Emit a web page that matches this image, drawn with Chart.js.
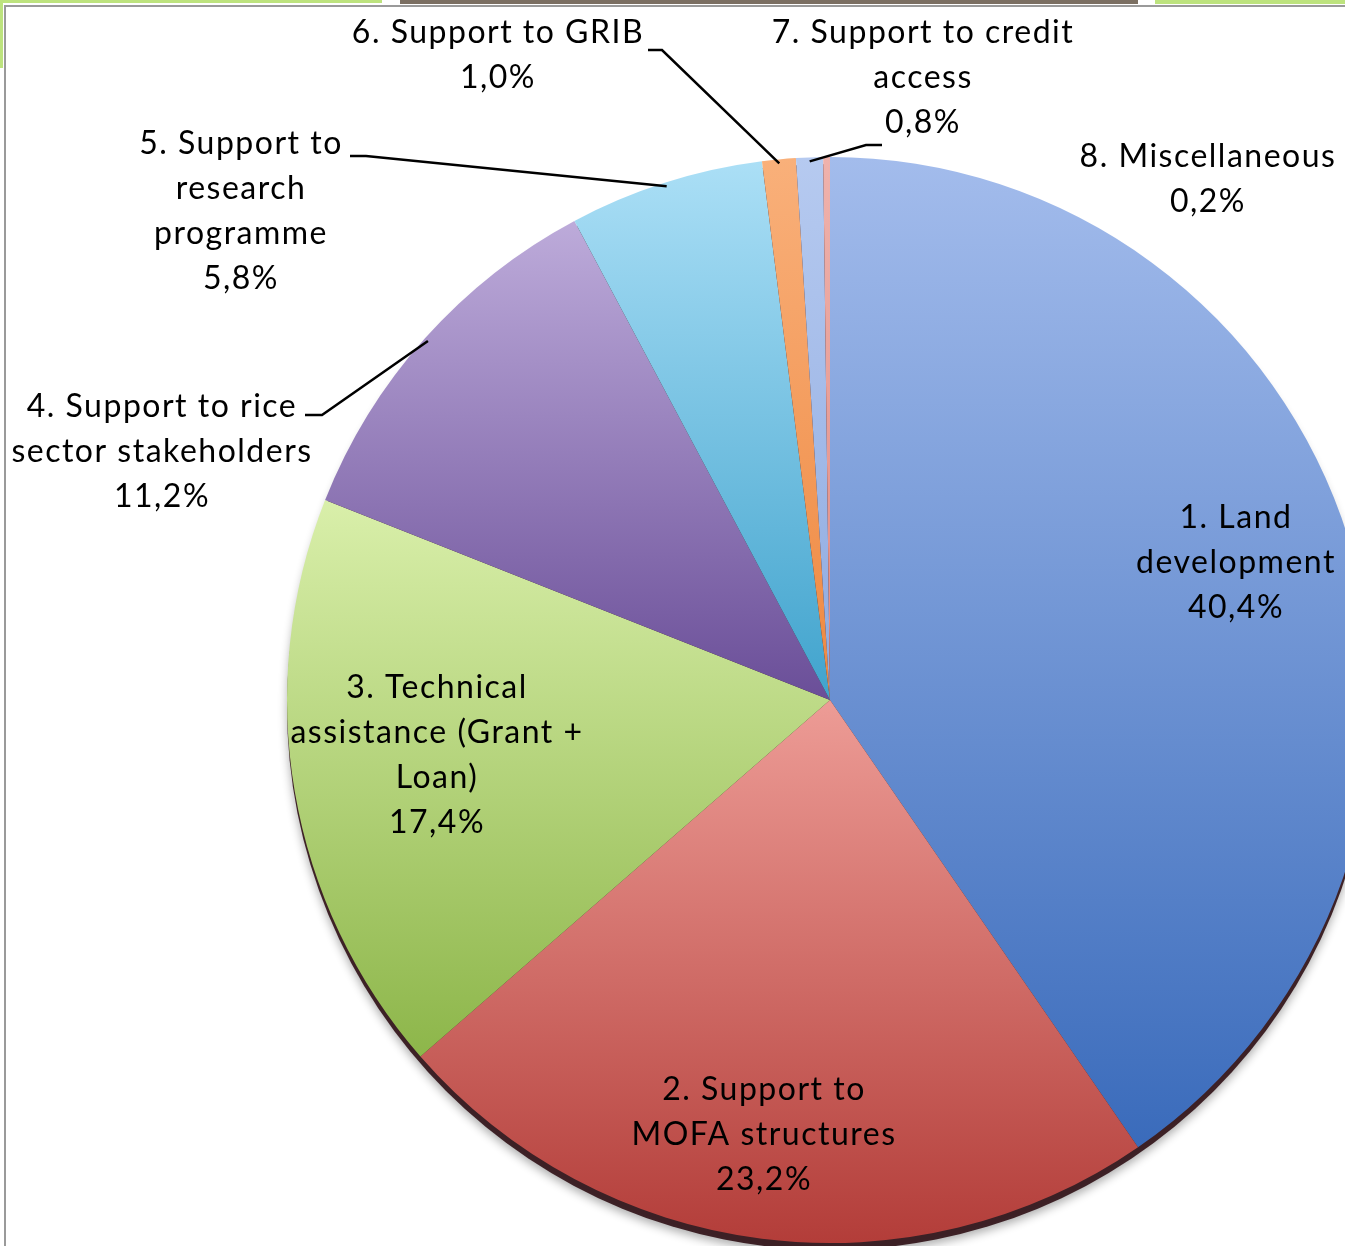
<!DOCTYPE html>
<html>
<head>
<meta charset="utf-8">
<script src="https://cdn.jsdelivr.net/npm/chart.js@4.4.1/dist/chart.umd.min.js"></script>
<style>
    html, body { margin: 0; padding: 0; background: #fff; overflow: hidden; }
    .stage { position: relative; width: 1345px; height: 1246px; overflow: hidden; }
    .stage canvas { position: absolute; left: 0; top: 0; }
    .deco { position: absolute; z-index: 2; }
</style>
</head>
<body>
<div class="stage">
    <canvas id="pieChart" width="1400" height="1246" style="width:1400px;height:1246px"></canvas>
    <!-- frame bits round the cropped screenshot -->
    <div class="deco" style="left:0;top:0;width:382px;height:3px;background:#bde37e"></div>
    <div class="deco" style="left:400px;top:0;width:738px;height:4px;background:#7b6f62"></div>
    <div class="deco" style="left:1155px;top:0;width:190px;height:4px;background:#bde37e"></div>
    <div class="deco" style="left:0;top:0;width:3px;height:68px;background:#bde37e"></div>
    <div class="deco" style="left:4px;top:5px;width:1341px;height:2px;background:#9a9a9a"></div>
    <div class="deco" style="left:4px;top:5px;width:2px;height:1241px;background:#9a9a9a"></div>
</div>
<script>
// Data
const categories = [
    '1. Land development',
    '2. Support to MOFA structures',
    '3. Technical assistance (Grant + Loan)',
    '4. Support to rice sector stakeholders',
    '5. Support to research programme',
    '6. Support to GRIB',
    '7. Support to credit access',
    '8. Miscellaneous'
];
const shares = [40.4, 23.2, 17.4, 11.2, 5.8, 1.0, 0.8, 0.2];

// How each category name is broken into lines on the chart
const labelLines = [
    ['1. Land', 'development'],
    ['2. Support to', 'MOFA structures'],
    ['3. Technical', 'assistance (Grant +', 'Loan)'],
    ['4. Support to rice', 'sector stakeholders'],
    ['5. Support to', 'research', 'programme'],
    ['6. Support to GRIB'],
    ['7. Support to credit', 'access'],
    ['8. Miscellaneous']
];

// Slice colours: light at top, dark at bottom
const colorsTop = ['#a3bcec', '#ed9c96', '#d9efaa', '#bdabda', '#abdff6', '#f9b07a', '#b6caf0', '#efb2ac'];
const colorsBottom = ['#3a6bbb', '#b33d39', '#8db64a', '#6a4e98', '#40a3cd', '#ee8840', '#8eaae0', '#e08a82'];

// Label block positions (centre x, first line y) and leader elbows
const labelPos = [
    { x: 1236, y: 518 },
    { x: 764, y: 1090 },
    { x: 437, y: 688 },
    { x: 162, y: 407 },
    { x: 241, y: 144 },
    { x: 498, y: 33 },
    { x: 923, y: 33 },
    { x: 1208, y: 157 }
];
const leaders = {
    3: [[305, 415], [322, 415]],
    4: [[350, 156], [366, 156]],
    5: [[648, 50], [662, 50]],
    6: [[882, 145], [866, 145]]
};

const LINE_H = 45;
const FONT = "32px Lato, 'Open Sans', sans-serif";

function pctText(v) {
    return v.toFixed(1).replace('.', ',') + '%';
}

// Vertical extent of one slice, for its gradient
function sliceExtent(chart, index) {
    const area = chart.chartArea;
    const cx = (area.left + area.right) / 2;
    const cy = (area.top + area.bottom) / 2;
    const r = Math.min(area.right - area.left, area.bottom - area.top) / 2;
    const total = shares.reduce((a, b) => a + b, 0);
    let start = -Math.PI / 2;
    for (let i = 0; i < index; i++) start += shares[i] / total * Math.PI * 2;
    const end = start + shares[index] / total * Math.PI * 2;
    const ys = [cy, cy + r * Math.sin(start), cy + r * Math.sin(end)];
    const has = a => {
        for (let k = -1; k <= 2; k++) {
            const t = a + k * Math.PI * 2;
            if (t >= start && t <= end) return true;
        }
        return false;
    };
    if (has(-Math.PI / 2)) ys.push(cy - r);
    if (has(Math.PI / 2)) ys.push(cy + r);
    return [Math.min(...ys), Math.max(...ys)];
}

function sliceFill(context) {
    const chart = context.chart;
    const i = context.dataIndex;
    if (!chart.chartArea) return colorsTop[i];
    const [y0, y1] = sliceExtent(chart, i);
    const g = chart.ctx.createLinearGradient(0, y0, 0, Math.max(y1, y0 + 1));
    g.addColorStop(0, colorsTop[i]);
    g.addColorStop(1, colorsBottom[i]);
    return g;
}

// Dark rim + soft shadow under the pie
const rimPlugin = {
    id: 'rim',
    beforeDatasetsDraw(chart) {
        const arc = chart.getDatasetMeta(0).data[0];
        if (!arc) return;
        const ctx = chart.ctx;
        ctx.save();
        ctx.shadowColor = 'rgba(0,0,0,0.35)';
        ctx.shadowBlur = 10;
        ctx.shadowOffsetY = 4;
        ctx.fillStyle = 'rgba(50,20,25,0.92)';
        ctx.beginPath();
        ctx.arc(arc.x, arc.y + 7, arc.outerRadius, 0, Math.PI * 2);
        ctx.fill();
        ctx.restore();
    }
};

// Category + percent labels with leader lines
const labelPlugin = {
    id: 'sliceLabels',
    afterDatasetsDraw(chart) {
        const ctx = chart.ctx;
        const meta = chart.getDatasetMeta(0);
        ctx.save();
        ctx.font = FONT;
        ctx.fillStyle = '#000';
        ctx.textAlign = 'center';
        ctx.textBaseline = 'middle';
        ctx.letterSpacing = '1.5px';
        labelLines.forEach((lines, i) => {
            const pos = labelPos[i];
            const all = [...lines, pctText(shares[i])];
            all.forEach((txt, k) => ctx.fillText(txt, pos.x, pos.y + k * LINE_H));
        });
        ctx.strokeStyle = '#000';
        ctx.lineWidth = 2.5;
        Object.keys(leaders).forEach(key => {
            const i = parseInt(key, 10);
            const arc = meta.data[i];
            const mid = (arc.startAngle + arc.endAngle) / 2;
            const r = arc.outerRadius - 4;
            const pts = leaders[key];
            ctx.beginPath();
            ctx.moveTo(pts[0][0], pts[0][1]);
            ctx.lineTo(pts[1][0], pts[1][1]);
            ctx.lineTo(arc.x + r * Math.cos(mid), arc.y + r * Math.sin(mid));
            ctx.stroke();
        });
        ctx.restore();
    }
};

const ctx = document.getElementById('pieChart').getContext('2d');
new Chart(ctx, {
    type: 'pie',
    data: {
        labels: categories,
        datasets: [{
            data: shares,
            backgroundColor: sliceFill,
            borderWidth: 0
        }]
    },
    options: {
        responsive: false,
        animation: false,
        rotation: 0,
        layout: {
            padding: { left: 284, top: 157, right: 24, bottom: 3 }
        },
        plugins: {
            legend: { display: false },
            tooltip: { enabled: false }
        }
    },
    plugins: [rimPlugin, labelPlugin]
});
</script>
</body>
</html>
